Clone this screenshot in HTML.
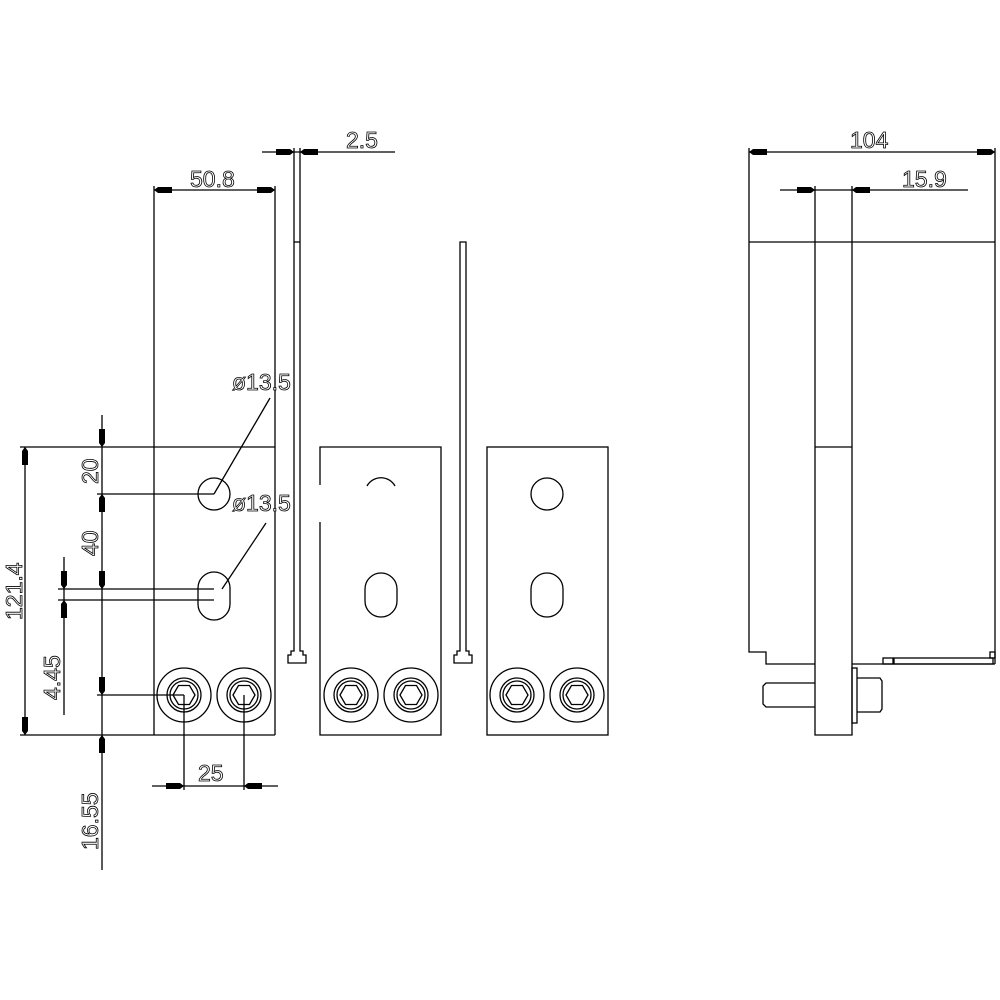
<!DOCTYPE html>
<html><head><meta charset="utf-8"><style>
html,body{margin:0;padding:0;background:#fff;}
svg{display:block}
text{font-family:"Liberation Sans",sans-serif;font-size:23px;fill:#fff;stroke:#000;stroke-width:0.8px;}
</style></head><body>
<svg width="1000" height="1000" viewBox="0 0 1000 1000" xmlns="http://www.w3.org/2000/svg">
<defs>
<g id="ar"><polygon points="0,0 -4,-3 -18,-3 -18,3 -4,3" fill="#000"/></g>
<g id="bolt" fill="none" stroke="#000" stroke-width="1.3">
<circle r="27"/><circle r="17"/><circle r="14"/>
<polygon points="-11,0 -5.5,-9.5 5.5,-9.5 11,0 5.5,9.5 -5.5,9.5"/>
</g>
</defs>
<g fill="none" stroke="#000" stroke-width="1.3">
<line x1="154" y1="186" x2="154" y2="735"/>
<line x1="275" y1="186" x2="275" y2="735"/>
<line x1="20" y1="447" x2="275" y2="447"/>
<line x1="20" y1="735" x2="275" y2="735"/>
<circle cx="214" cy="494" r="16"/>
<rect x="198" y="572" width="32" height="48" rx="16" ry="16"/>
<path d="M294,148 V651 H291 V655 H288 V663 H306 V655 H303 V651 H300 V148"/>
<line x1="294" y1="242" x2="300" y2="242"/>
<path d="M460,242 H466 V651 H469 V655 H472 V663 H454 V655 H457 V651 H460 Z"/>
<path d="M320,485 V447 H441 V735 H320 V522"/>
<path d="M367,486 A16,16 0 0 1 395,486"/>
<rect x="365" y="573" width="32" height="44" rx="16" ry="16"/>
<rect x="487" y="447" width="121" height="288"/>
<circle cx="547" cy="494" r="16"/>
<rect x="531" y="573" width="32" height="44" rx="16" ry="16"/>
<line x1="102" y1="415" x2="102" y2="870"/>
<line x1="97" y1="494" x2="214" y2="494"/>
<line x1="58" y1="589" x2="214" y2="589"/>
<line x1="58" y1="600" x2="214" y2="600"/>
<line x1="97" y1="695" x2="184" y2="695"/>
<line x1="25" y1="447" x2="25" y2="735"/>
<line x1="64" y1="557" x2="64" y2="715"/>
<line x1="214" y1="494" x2="270" y2="398"/>
<line x1="222" y1="589" x2="266" y2="523"/>
<line x1="262" y1="152" x2="395" y2="152"/>
<line x1="154" y1="190" x2="275" y2="190"/>
<line x1="152" y1="786" x2="278" y2="786"/>
<line x1="184" y1="695" x2="184" y2="790"/>
<line x1="244" y1="695" x2="244" y2="790"/>
<path d="M749,148 V652 H766 V664 H815"/>
<line x1="995" y1="148" x2="995" y2="664"/>
<line x1="749" y1="242" x2="995" y2="242"/>
<path d="M815,186 V735 H852 V186"/>
<line x1="815" y1="447" x2="852" y2="447"/>
<line x1="852" y1="664" x2="995" y2="664"/>
<rect x="883" y="658" width="10" height="6"/>
<rect x="894" y="658" width="99" height="6"/>
<rect x="990" y="652" width="5" height="6"/>
<path d="M815,683 H766 L763,686 V704 L766,707 H815"/>
<rect x="852" y="668" width="5" height="55"/>
<path d="M857,678 H880 L882,681 V709 L880,712 H857"/>
<line x1="749" y1="152" x2="995" y2="152"/>
<line x1="780" y1="190" x2="968" y2="190"/>
</g>
<use href="#bolt" x="184" y="695"/><use href="#bolt" x="244" y="695"/>
<use href="#bolt" x="351" y="695"/><use href="#bolt" x="411" y="695"/>
<use href="#bolt" x="517" y="695"/><use href="#bolt" x="577" y="695"/>
<use href="#ar" transform="translate(294,152)"/>
<use href="#ar" transform="translate(300,152) rotate(180)"/>
<use href="#ar" transform="translate(275,190)"/>
<use href="#ar" transform="translate(154,190) rotate(180)"/>
<use href="#ar" transform="translate(749,152) rotate(180)"/>
<use href="#ar" transform="translate(995,152)"/>
<use href="#ar" transform="translate(815,190)"/>
<use href="#ar" transform="translate(852,190) rotate(180)"/>
<use href="#ar" transform="translate(184,786)"/>
<use href="#ar" transform="translate(244,786) rotate(180)"/>
<use href="#ar" transform="translate(102,447) rotate(90)"/>
<use href="#ar" transform="translate(102,494) rotate(-90)"/>
<use href="#ar" transform="translate(102,589) rotate(90)"/>
<use href="#ar" transform="translate(102,695) rotate(90)"/>
<use href="#ar" transform="translate(102,735) rotate(-90)"/>
<use href="#ar" transform="translate(25,447) rotate(-90)"/>
<use href="#ar" transform="translate(25,735) rotate(90)"/>
<use href="#ar" transform="translate(64,589) rotate(90)"/>
<use href="#ar" transform="translate(64,600) rotate(-90)"/>
<text x="346" y="148">2.5</text>
<text x="190" y="187">50.8</text>
<text x="850" y="148">104</text>
<text x="902" y="187">15.9</text>
<text x="232" y="390">ø13.5</text>
<text x="232" y="511">ø13.5</text>
<text x="198" y="781">25</text>
<text transform="translate(98,484) rotate(-90)">20</text>
<text transform="translate(98,556) rotate(-90)">40</text>
<text transform="translate(22,620) rotate(-90)">121.4</text>
<text transform="translate(60,700) rotate(-90)">4.45</text>
<text transform="translate(98,850) rotate(-90)">16.55</text>
</svg>
</body></html>
